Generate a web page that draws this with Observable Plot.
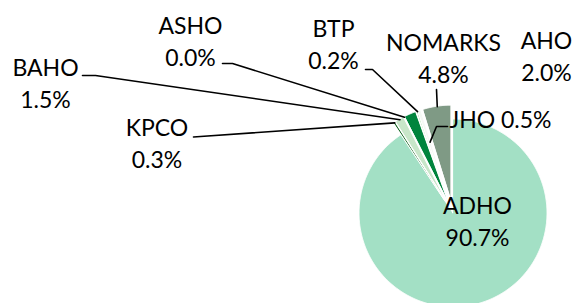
<!DOCTYPE html>
<html><head><meta charset="utf-8">
<script src="https://cdn.jsdelivr.net/npm/d3@7"></script>
<script src="https://cdn.jsdelivr.net/npm/@observablehq/plot@0.6"></script>
<style>
html,body{margin:0;padding:0;background:#fff;}
#chart svg{display:block;}
</style></head><body><div id="chart"></div>
<script>
// ---- data ----
const categories = ["ADHO", "KPCO", "BAHO", "ASHO", "AHO", "BTP", "JHO", "NOMARKS"];
const values = [90.7, 0.3, 1.5, 0.0, 2.0, 0.2, 0.5, 4.8];

// ---- styles ----
const palette = ["#a3e0c5", "#1f6e2c", "#c8e6c9", "#6fbf73", "#00843d", "#86de86", "#f4f8f4", "#7f9a85"];
const explodedSlice = [false, true, true, true, true, true, true, true];

// ---- layout (pixels) ----
const W = 575, H = 303;
const cx = 453, cy = 213, R = 94, explode = 14;
// label layout: x centre, baseline of last line, elbow points, fraction of radius leader reaches
const labelLayout = {
  ADHO:    {x: 477, y: 245, line: null},
  KPCO:    {x: 156.5, y: 167, line: [[193, 136.5], [200, 136]], frac: 1},
  BAHO:    {x: 45, y: 107, line: [[82, 75], [95, 75]], frac: 1},
  ASHO:    {x: 190, y: 65, line: [[222, 63], [232, 63]], frac: 1},
  AHO:     {x: 546, y: 80, line: null},
  BTP:     {x: 333, y: 68, line: [[365, 69], [372, 69]], frac: 1},
  JHO:     {x: 500, y: 127, line: [[447, 126], [436, 126]], frac: 0.65, single: true},
  NOMARKS: {x: 443, y: 82, line: [[436, 89]], frac: 1}
};

const total = d3.sum(values);
let acc = 0;
const slices = categories.map((name, i) => {
  const a0 = acc / total * 2 * Math.PI;
  acc += values[i];
  const a1 = acc / total * 2 * Math.PI;
  const m = (a0 + a1) / 2;
  const d = explodedSlice[i] ? explode : 0;
  return {name, value: values[i], a0, a1, m, ax: cx + d * Math.sin(m), ay: cy - d * Math.cos(m)};
});

const wedgePts = [];
for (const s of slices) {
  const n = Math.max(2, Math.ceil((s.a1 - s.a0) / (Math.PI / 360)) + 1);
  for (let k = 0; k < n; k++) {
    const a = s.a0 + (s.a1 - s.a0) * k / (n - 1);
    wedgePts.push({name: s.name, x1: s.ax, y1: s.ay, x2: s.ax + R * Math.sin(a), y2: s.ay - R * Math.cos(a)});
  }
}

const leaderPts = [];
const labels = [];
for (const s of slices) {
  const L = labelLayout[s.name];
  const pct = s.value.toFixed(1) + "%";
  labels.push({name: s.name, x: L.x, y: L.y, text: L.single ? `${s.name} ${pct}` : `${s.name}\n${pct}`});
  if (L.line) {
    for (const [x, y] of L.line) leaderPts.push({name: s.name, x, y});
    leaderPts.push({name: s.name, x: s.ax + R * L.frac * Math.sin(s.m), y: s.ay - R * L.frac * Math.cos(s.m)});
  }
}

const chart = Plot.plot({
  width: W, height: H,
  margin: 0,
  style: {background: "#fff", fontFamily: "Lato, sans-serif"},
  x: {domain: [0, W], range: [0, W], axis: null},
  y: {domain: [0, H], range: [0, H], axis: null},
  color: {domain: categories, range: palette},
  marks: [
    Plot.area(wedgePts, {x1: "x1", y1: "y1", x2: "x2", y2: "y2", z: "name", fill: "name", stroke: "white", strokeWidth: 1}),
    Plot.line(leaderPts, {x: "x", y: "y", z: "name", stroke: "#000", strokeWidth: 1.6}),
    Plot.text(labels, {x: "x", y: "y", text: "text", lineAnchor: "bottom", lineHeight: 1.39, fontSize: 23, fontFamily: "Lato", fill: "#000"})
  ]
});
document.getElementById("chart").appendChild(chart);
</script></body></html>
